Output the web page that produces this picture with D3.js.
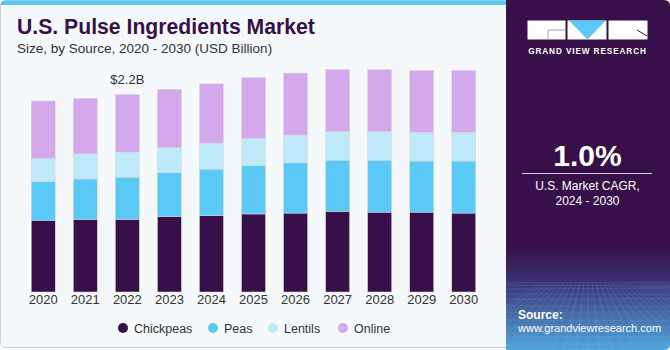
<!DOCTYPE html>
<html>
<head>
<meta charset="utf-8">
<script src="https://cdn.jsdelivr.net/npm/d3@7"></script>
<style>
  body { margin: 0; background: #ffffff; }
  svg { display: block; font-family: "Liberation Sans", Arial, sans-serif; }
</style>
</head>
<body>
<div id="chart"></div>
<script>
// data (USD billion)
const years = ["2020", "2021", "2022", "2023", "2024", "2025", "2026", "2027", "2028", "2029", "2030"];
const sources = ["Chickpeas", "Peas", "Lentils", "Online"];
const chickpeas = [0.80, 0.81, 0.81, 0.84, 0.85, 0.87, 0.88, 0.90, 0.89, 0.89, 0.88];
const peas      = [0.43, 0.45, 0.47, 0.49, 0.52, 0.54, 0.56, 0.57, 0.58, 0.57, 0.58];
const lentils   = [0.26, 0.28, 0.28, 0.28, 0.29, 0.30, 0.31, 0.32, 0.32, 0.32, 0.32];
const online    = [0.64, 0.62, 0.64, 0.65, 0.66, 0.68, 0.69, 0.69, 0.69, 0.69, 0.69];
const colors = ["#37104a", "#5bc9f6", "#bde9f9", "#d4a8ec"];
const callout = { year: "2022", label: "$2.2B" };

const width = 670, height = 350;
const svg = d3.select("#chart").append("svg")
    .attr("width", width)
    .attr("height", height);

// left panel
svg.append("rect")
    .attr("x", 0.5).attr("y", 0.5)
    .attr("width", 520).attr("height", 347)
    .attr("rx", 5)
    .attr("fill", "#f5f9fc")
    .attr("stroke", "#cfd3d6");
svg.append("path")
    .attr("d", "M0.5,6 V5 Q0.5,0.5 5,0.5 H520 V5 H0.5 Z")
    .attr("fill", "#5bc9f6");

svg.append("text")
    .attr("x", 17).attr("y", 34)
    .attr("font-size", 21.2)
    .attr("font-weight", "bold")
    .attr("fill", "#37104a")
    .text("U.S. Pulse Ingredients Market");
svg.append("text")
    .attr("x", 17).attr("y", 53)
    .attr("font-size", 13.5)
    .attr("fill", "#333")
    .text("Size, by Source, 2020 - 2030 (USD Billion)");

// stacked bars
const rows = years.map((y, i) => ({
    year: y, Chickpeas: chickpeas[i], Peas: peas[i], Lentils: lentils[i], Online: online[i]
}));
const stacked = d3.stack().keys(sources)(rows);

const x = d3.scaleBand()
    .domain(years)
    .range([22, 485])
    .paddingInner(0.43)
    .paddingOuter(0.22);

const y = d3.scaleLinear()
    .domain([0, 2.5])
    .range([292, 67.75]);

const color = d3.scaleOrdinal().domain(sources).range(colors);

svg.append("g")
    .selectAll("g")
    .data(stacked)
    .join("g")
    .attr("fill", d => color(d.key))
    .selectAll("rect")
    .data(d => d)
    .join("rect")
    .attr("x", d => x(d.data.year))
    .attr("y", d => y(d[1]))
    .attr("width", x.bandwidth())
    .attr("height", d => y(d[0]) - y(d[1]))
    .attr("stroke", "#d8d4e2")
    .attr("stroke-width", 0.5);

// callout over 2022
const ci = years.indexOf(callout.year);
const total = chickpeas[ci] + peas[ci] + lentils[ci] + online[ci];
svg.append("text")
    .attr("x", x(callout.year) + x.bandwidth() / 2)
    .attr("y", y(total) - 11)
    .attr("text-anchor", "middle")
    .attr("font-size", 13)
    .attr("fill", "#333")
    .text(callout.label);

// x axis
const xAxis = svg.append("g")
    .attr("transform", "translate(0,292)")
    .call(d3.axisBottom(x).tickSize(0).tickPadding(3));
xAxis.select(".domain").remove();
xAxis.selectAll("text")
    .attr("font-size", 13)
    .attr("font-family", "Liberation Sans, Arial, sans-serif")
    .attr("fill", "#333");

// legend
const legendX = [123, 213, 273, 343];
const legend = svg.append("g")
    .selectAll("g")
    .data(sources)
    .join("g")
    .attr("transform", (d, i) => `translate(${legendX[i]},328)`);
legend.append("circle")
    .attr("r", 5)
    .attr("fill", d => color(d));
legend.append("text")
    .attr("x", 11)
    .attr("y", 4.5)
    .attr("font-size", 12.5)
    .attr("fill", "#333")
    .text(d => d);

// right panel
const defs = svg.append("defs");
const grad = defs.append("linearGradient")
    .attr("id", "panelGrad")
    .attr("x1", 0).attr("y1", 0).attr("x2", 0).attr("y2", 1);
grad.append("stop").attr("offset", "0%").attr("stop-color", "#37104a");
grad.append("stop").attr("offset", "70%").attr("stop-color", "#37104a");
grad.append("stop").attr("offset", "80%").attr("stop-color", "#3c2f72");
grad.append("stop").attr("offset", "100%").attr("stop-color", "#4fa8dc");
defs.append("clipPath").attr("id", "panelClip")
    .append("path")
    .attr("d", "M506,0 H664 Q670,0 670,6 V344 Q670,350 664,350 H506 Z");

const panel = svg.append("g").attr("clip-path", "url(#panelClip)");
panel.append("rect")
    .attr("x", 506).attr("y", 0)
    .attr("width", 164).attr("height", 350)
    .attr("fill", "url(#panelGrad)");

// perspective grid texture at the bottom
const grid = panel.append("g")
    .attr("stroke", "#a9cdf0")
    .attr("stroke-opacity", 0.22)
    .attr("stroke-width", 0.6)
    .attr("fill", "none");
d3.range(0, 14).forEach(k => {
    const gy = 283 + Math.pow(k, 1.45) * 2.2;
    grid.append("line").attr("x1", 506).attr("x2", 670).attr("y1", gy).attr("y2", gy + (k % 2 ? 1 : -1));
});
d3.range(-12, 24).forEach(k => {
    grid.append("line").attr("x1", 588 + k * 4).attr("y1", 283).attr("x2", 588 + k * 12).attr("y2", 350);
});

// logo
const logo = svg.append("g");
logo.append("rect").attr("x", 527.5).attr("y", 20.5).attr("width", 38).attr("height", 19).attr("fill", "#fff");
logo.append("rect").attr("x", 567.5).attr("y", 20.5).attr("width", 39).attr("height", 19).attr("fill", "#fff");
logo.append("path").attr("d", "M569,20.5 L606,20.5 L587.5,39.5 Z").attr("fill", "#5bc9f6");
logo.append("rect").attr("x", 608.5).attr("y", 20.5).attr("width", 39).attr("height", 19).attr("fill", "#fff");
logo.append("path").attr("d", "M548,30 H565 M548,30 V39").attr("stroke", "#8a8a9a").attr("stroke-width", 0.8);
logo.append("path").attr("d", "M637,30 L647,36").attr("stroke", "#37104a").attr("stroke-width", 1);
svg.append("text")
    .attr("x", 587.5).attr("y", 54)
    .attr("text-anchor", "middle")
    .attr("font-size", 8.2)
    .attr("font-weight", "bold")
    .attr("letter-spacing", 0.9)
    .attr("fill", "#fff")
    .text("GRAND VIEW RESEARCH");

svg.append("text")
    .attr("x", 587.5).attr("y", 166)
    .attr("text-anchor", "middle")
    .attr("font-size", 30)
    .attr("font-weight", "bold")
    .attr("fill", "#fff")
    .text("1.0%");
svg.append("line")
    .attr("x1", 522).attr("x2", 652)
    .attr("y1", 173.5).attr("y2", 173.5)
    .attr("stroke", "#d8d0e0").attr("stroke-width", 1);
svg.append("text")
    .attr("x", 587.5).attr("y", 190)
    .attr("text-anchor", "middle")
    .attr("font-size", 12)
    .attr("fill", "#fff")
    .text("U.S. Market CAGR,");
svg.append("text")
    .attr("x", 587.5).attr("y", 205)
    .attr("text-anchor", "middle")
    .attr("font-size", 12)
    .attr("fill", "#fff")
    .text("2024 - 2030");

svg.append("text")
    .attr("x", 518).attr("y", 319)
    .attr("font-size", 12)
    .attr("font-weight", "bold")
    .attr("fill", "#fff")
    .text("Source:");
svg.append("text")
    .attr("x", 518).attr("y", 332)
    .attr("font-size", 11)
    .attr("fill", "#fff")
    .text("www.grandviewresearch.com");
</script>
</body>
</html>
